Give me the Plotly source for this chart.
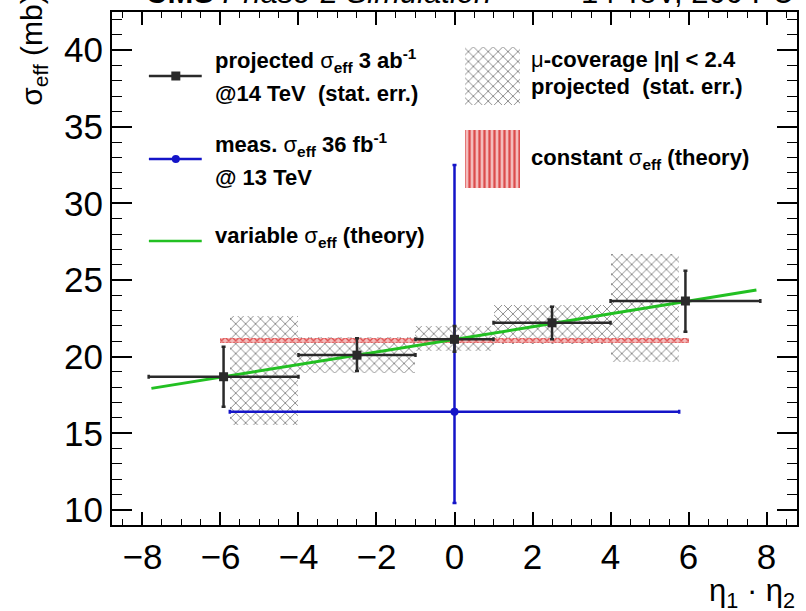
import plotly.graph_objects as go

# ---------------- data ----------------
# projected sigma_eff, 3 ab^-1 @ 14 TeV (stat. err.)
proj_x = [-5.92, -2.5, 0.0, 2.5, 5.92]
proj_xlo = [-7.84, -4.0, -1.0, 1.0, 4.0]
proj_xhi = [-4.0, -1.0, 1.0, 4.0, 7.84]
proj_y = [18.69, 20.10, 21.13, 22.21, 23.63]
proj_ylo = [16.73, 19.06, 20.32, 21.13, 21.63]
proj_yhi = [20.65, 21.20, 22.00, 23.26, 25.60]

# projection restricted to muon coverage |eta| < 2.4
box_xlo = [-5.76, -4.0, -1.0, 1.0, 4.0]
box_xhi = [-4.0, -1.0, 1.0, 4.0, 5.76]
box_ylo = [15.55, 18.95, 20.35, 20.80, 19.67]
box_yhi = [22.65, 21.25, 22.00, 23.37, 26.70]

# measured sigma_eff, 36 fb^-1 @ 13 TeV
meas_x = [0.0]
meas_y = [16.41]
meas_xerr = [5.76]
meas_ylo = [10.45]
meas_yhi = [32.50]

# constant sigma_eff (theory)
const_xlo, const_xhi = -6.0, 6.0
const_y = 21.03
const_err = 0.17

# variable sigma_eff (theory)
var_x = [-7.77, -6.0, -4.0, -2.0, 0.0, 2.0, 4.0, 6.0, 7.74]
var_y = [17.93, 18.66, 19.45, 20.30, 21.12, 21.95, 22.80, 23.62, 24.35]

x_range = [-8.78, 8.78]
y_range = [9.02, 42.48]

# ---------------- style ----------------
FONT = "Liberation Sans, Arial, Helvetica, sans-serif"
BLACK = "#2a2a2a"
BLUE = "#1414c8"
GREEN = "#22c022"
GRAY = "#828282"
RED_FG = "#dc4c4c"
RED_BG = "#f4bcbc"

W, H = 806, 611
L, R, T, B = 112, 7, 12, 86

fig = go.Figure()

# hatched projection boxes
fig.add_trace(go.Bar(
    x=[(a + b) / 2 for a, b in zip(box_xlo, box_xhi)],
    width=[b - a for a, b in zip(box_xlo, box_xhi)],
    base=box_ylo,
    y=[b - a for a, b in zip(box_ylo, box_yhi)],
    marker=dict(color=GRAY, line=dict(width=0),
                pattern=dict(shape="x", size=7, solidity=0.24,
                             fillmode="replace", bgcolor="rgba(0,0,0,0)")),
    showlegend=False, hoverinfo="skip",
))

# constant sigma_eff band
fig.add_trace(go.Bar(
    x=[(const_xlo + const_xhi) / 2],
    width=[const_xhi - const_xlo],
    base=[const_y - const_err],
    y=[2 * const_err],
    marker=dict(color=RED_FG, line=dict(width=0),
                pattern=dict(shape="x", size=5, solidity=0.45,
                             fillmode="replace", bgcolor=RED_BG)),
    showlegend=False, hoverinfo="skip",
))

# variable sigma_eff curve
fig.add_trace(go.Scatter(
    x=var_x, y=var_y, mode="lines",
    line=dict(color=GREEN, width=3),
    showlegend=False, hoverinfo="skip",
))

# 13 TeV measurement
fig.add_trace(go.Scatter(
    x=meas_x, y=meas_y, mode="markers",
    marker=dict(color=BLUE, size=8, symbol="circle"),
    error_x=dict(type="data", array=meas_xerr, color=BLUE, thickness=2.5, width=2),
    error_y=dict(type="data", symmetric=False,
                 array=[h - v for h, v in zip(meas_yhi, meas_y)],
                 arrayminus=[v - l for l, v in zip(meas_ylo, meas_y)],
                 color=BLUE, thickness=2.5, width=2),
    showlegend=False, hoverinfo="skip",
))

# projected points
fig.add_trace(go.Scatter(
    x=proj_x, y=proj_y, mode="markers",
    marker=dict(color=BLACK, size=9, symbol="square"),
    error_x=dict(type="data", symmetric=False,
                 array=[h - c for h, c in zip(proj_xhi, proj_x)],
                 arrayminus=[c - l for l, c in zip(proj_xlo, proj_x)],
                 color=BLACK, thickness=2.5, width=2),
    error_y=dict(type="data", symmetric=False,
                 array=[h - v for h, v in zip(proj_yhi, proj_y)],
                 arrayminus=[v - l for l, v in zip(proj_ylo, proj_y)],
                 color=BLACK, thickness=2.5, width=2),
    showlegend=False, hoverinfo="skip",
))

# ---------------- legend (drawn on a pixel-unit overlay axis) ----------------
def px_line(y, color, symbol=None, msize=0):
    fig.add_trace(go.Scatter(
        x=[149, 202], y=[y, y], mode="lines", line=dict(color=color, width=2.5),
        xaxis="x2", yaxis="y2", showlegend=False, hoverinfo="skip"))
    if symbol:
        fig.add_trace(go.Scatter(
            x=[176], y=[y], mode="markers",
            marker=dict(color=color, size=msize, symbol=symbol),
            xaxis="x2", yaxis="y2", showlegend=False, hoverinfo="skip"))

px_line(76, BLACK, "square", 9)
px_line(159, BLUE, "circle", 8)
px_line(241, GREEN)

# hatched legend swatches
fig.add_trace(go.Bar(
    x=[493.5], width=[55], base=[47], y=[58],
    marker=dict(color=GRAY, line=dict(width=0),
                pattern=dict(shape="x", size=7, solidity=0.24,
                             fillmode="replace", bgcolor="rgba(0,0,0,0)")),
    xaxis="x2", yaxis="y2", showlegend=False, hoverinfo="skip"))
fig.add_trace(go.Bar(
    x=[493.5], width=[55], base=[130], y=[58],
    marker=dict(color=RED_FG, line=dict(width=0),
                pattern=dict(shape="|", size=5, solidity=0.45,
                             fillmode="replace", bgcolor=RED_BG)),
    xaxis="x2", yaxis="y2", showlegend=False, hoverinfo="skip"))

LEG_SIZE = 22
legend_text = [
    (213, 60, "<b>projected</b> σ<sub><b>eff</b></sub><b> 3 ab</b><sup><b>-1</b></sup>"),
    (213, 93, "<b>@14 TeV  (stat. err.)</b>"),
    (213, 144, "<b>meas.</b> σ<sub><b>eff</b></sub><b> 36 fb</b><sup><b>-1</b></sup>"),
    (213, 177, "<b>@ 13 TeV</b>"),
    (213, 237, "<b>variable</b> σ<sub><b>eff</b></sub><b> (theory)</b>"),
    (530, 59, "μ<b>-coverage |η| &lt; 2.4</b>"),
    (530, 86, "<b>projected  (stat. err.)</b>"),
    (530, 159, "<b>constant</b> σ<sub><b>eff</b></sub><b> (theory)</b>"),
]
annotations = []
for xp, yp, txt in legend_text:
    annotations.append(dict(
        x=xp, y=yp, xref="x2", yref="y2", text=txt, showarrow=False,
        xanchor="left", yanchor="middle",
        font=dict(family=FONT, size=LEG_SIZE, color="black")))

# header (partly above the canvas edge)
annotations.append(dict(
    x=(143 - L) / (W - L - R), y=1.0, xref="paper", yref="paper",
    text="<b>CMS</b> <i>Phase-2 Simulation</i>", showarrow=False,
    xanchor="left", yanchor="bottom",
    font=dict(family=FONT, size=31, color="black")))
annotations.append(dict(
    x=1.0, y=1.0, xref="paper", yref="paper",
    text="14 TeV, 200 PU", showarrow=False,
    xanchor="right", yanchor="bottom",
    font=dict(family=FONT, size=31, color="black")))

# axis titles
annotations.append(dict(
    x=(33 - L) / (W - L - R), y=(525 - 108) / (525 - 12), xref="paper", yref="paper",
    text="σ<sub>eff</sub> (mb)", showarrow=False, textangle=-90,
    xanchor="center", yanchor="bottom",
    font=dict(family=FONT, size=30, color="black")))
annotations.append(dict(
    x=1.0, y=(525 - 571) / (525 - 12), xref="paper", yref="paper",
    text="η<sub>1</sub> · η<sub>2</sub>", showarrow=False,
    xanchor="right", yanchor="top",
    font=dict(family=FONT, size=31, color="black")))

axis_common = dict(
    showline=True, linecolor="black", linewidth=2, mirror="allticks",
    ticks="inside", tickcolor="black", tickwidth=1.5,
    showgrid=False, zeroline=False,
    tickfont=dict(family=FONT, size=35, color="black"),
)

fig.update_layout(
    width=W, height=H,
    margin=dict(l=L, r=R, t=T, b=B),
    paper_bgcolor="white", plot_bgcolor="white",
    barmode="overlay", bargap=0,
    showlegend=False,
    xaxis=dict(range=x_range, tickmode="linear", tick0=-8, dtick=2, ticklen=13,
               minor=dict(ticks="inside", dtick=0.5, ticklen=6,
                          tickcolor="black", tickwidth=1.2, showgrid=False),
               **axis_common),
    yaxis=dict(range=y_range, tickmode="linear", tick0=10, dtick=5, ticklen=20,
               minor=dict(ticks="inside", dtick=1, ticklen=10,
                          tickcolor="black", tickwidth=1.2, showgrid=False),
               **axis_common),
    xaxis2=dict(range=[L, W - R], overlaying="x", visible=False, anchor="y2"),
    yaxis2=dict(range=[H - B, T], overlaying="y", visible=False, anchor="x2"),
    annotations=annotations,
)

fig.write_html("out.html")
